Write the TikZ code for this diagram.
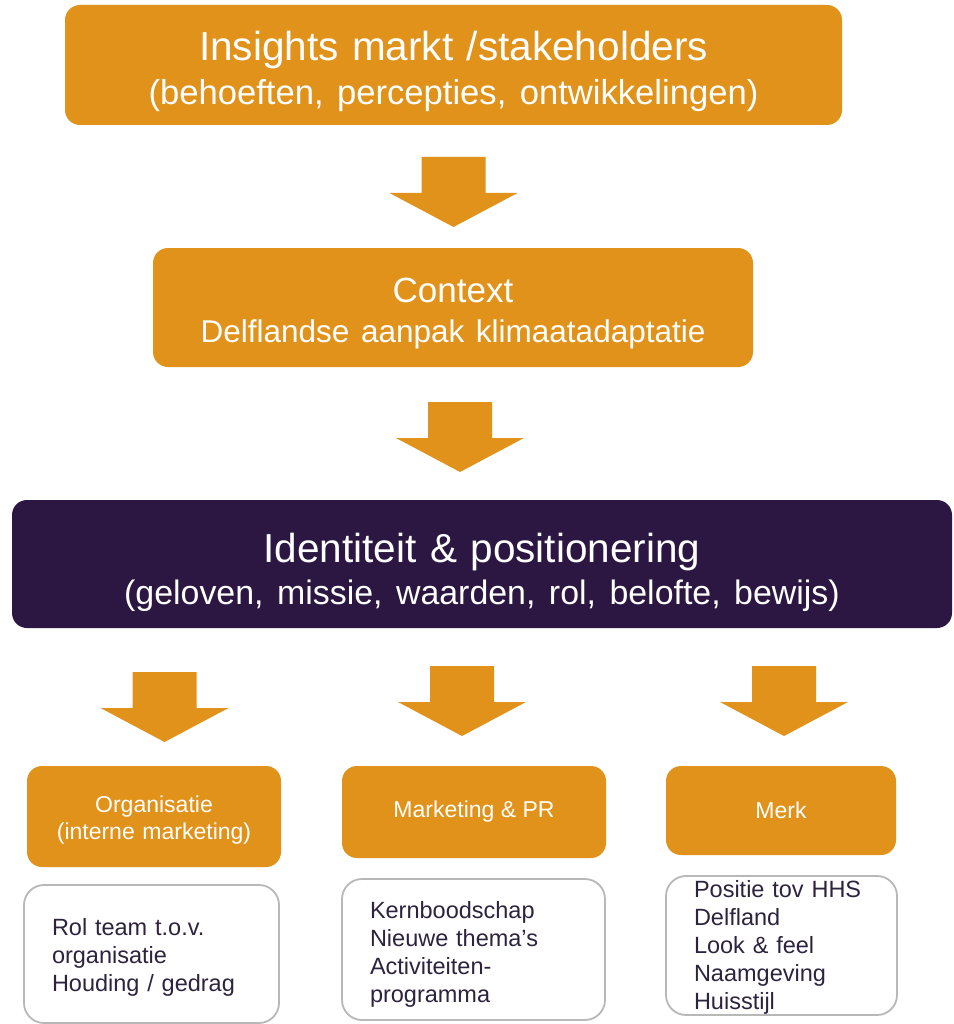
\documentclass[tikz,border=0pt]{standalone}
\usepackage{fontspec}
\setmainfont{Liberation Sans}
\usetikzlibrary{calc}
\definecolor{oranje}{RGB}{224,146,26}
\definecolor{paars}{RGB}{43,23,65}
\definecolor{tekst}{RGB}{45,35,62}

\begin{document}
\begin{tikzpicture}[x=1pt,y=-1pt,
  blok/.style={rectangle,rounded corners=15pt,fill=oranje,text=white,align=center,inner sep=0pt},
  lijst/.style={rectangle,rounded corners=20pt,draw=black!28,line width=1.8pt,fill=white,text=tekst,align=left,inner xsep=28pt,inner ysep=0pt,font=\fontsize{23.5}{28}\selectfont},
  pijl/.style={fill=oranje}]
\useasboundingbox (0,0) rectangle (953,1024);

\node[blok,minimum width=777pt,minimum height=120pt,text width=777pt,font=\fontsize{40.5}{44}\selectfont] (insights) at (453.5,65)
  {\rule{0pt}{41.4pt}Insights markt /stakeholders\\ {\fontsize{34.6}{44}\selectfont (behoeften, percepties, ontwikkelingen)}};
\node[blok,minimum width=600pt,minimum height=119pt,text width=600pt,font=\fontsize{35}{40}\selectfont] (context) at (453,307.5)
  {\rule{0pt}{35.7pt}Context\\ {\fontsize{31.5}{40}\selectfont Delflandse aanpak klimaatadaptatie}};
\node[blok,fill=paars,minimum width=940pt,minimum height=128pt,text width=940pt,font=\fontsize{40.5}{42}\selectfont] (identiteit) at (482,564)
  {\rule{0pt}{45.4pt}Identiteit \& positionering\\ {\fontsize{33.9}{42}\selectfont (geloven, missie, waarden, rol, belofte, bewijs)}};

\node[blok,minimum width=254pt,minimum height=101pt,text width=254pt,font=\fontsize{23}{27}\selectfont] (organisatie) at (154,816.5)
  {\rule{0pt}{24.6pt}Organisatie\\(interne marketing)};
\node[blok,minimum width=264pt,minimum height=92pt,font=\fontsize{23}{27}\selectfont] (marketing) at (474,812)
  {Marketing \& PR};
\node[blok,minimum width=230pt,minimum height=89pt,font=\fontsize{23}{27}\selectfont] (merk) at (781,810.5)
  {Merk};

\node[lijst,text width=199pt,minimum height=138pt] (rol) at (151.5,954)
  {\rule{0pt}{24pt}Rol team t.o.v.\\organisatie\\Houding / gedrag};
\node[lijst,text width=207pt,minimum height=141pt] (kern) at (473.5,949.5)
  {\rule{0pt}{27pt}Kernboodschap\\Nieuwe thema's\\Activiteiten-\\programma};
\node[lijst,text width=175pt,minimum height=139pt] (positie) at (781.5,945.5)
  {\rule{0pt}{21pt}Positie tov HHS\\Delfland\\Look \& feel\\Naamgeving\\Huisstijl};

% pijlen
\foreach \x/\y in {453.5/157, 460/402, 164.5/672, 462/666, 784/666}
  \fill[pijl] (\x,\y) ++(-32,0) -- ++(64,0) -- ++(0,36) -- ++(32,0) -- ++(-64,34) -- ++(-64,-34) -- ++(32,0) -- cycle;
\end{tikzpicture}
\end{document}
